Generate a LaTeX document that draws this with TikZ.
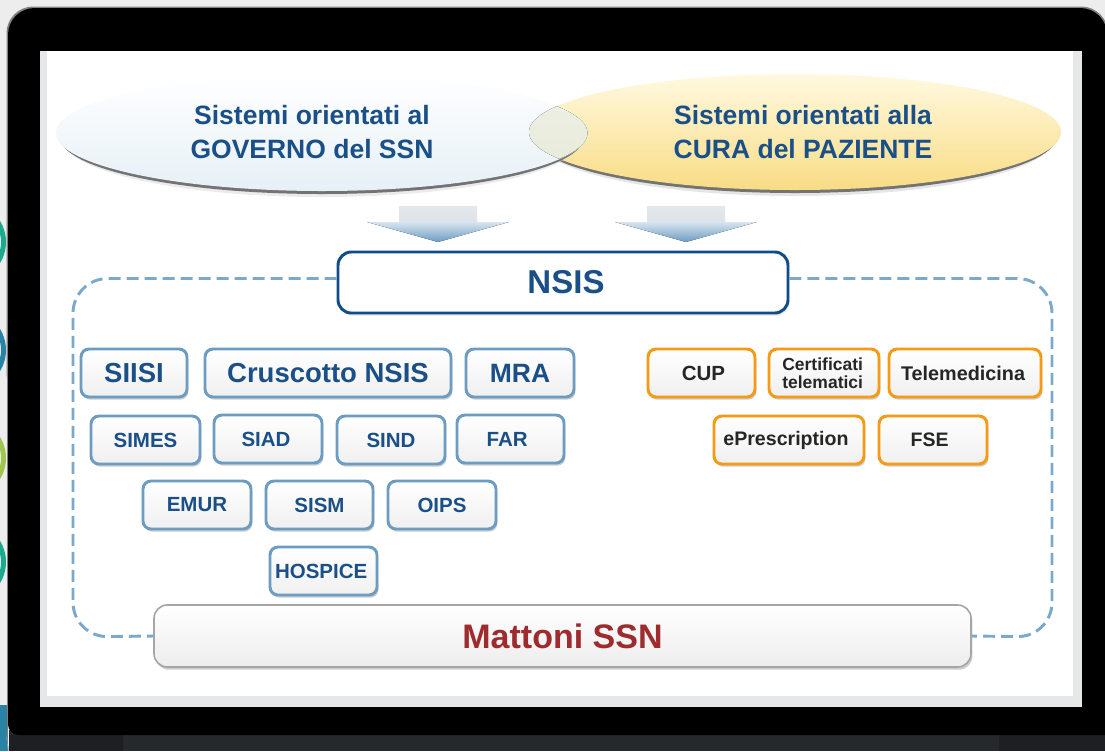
\documentclass[tikz,border=0pt]{standalone}
\usepackage{fontspec}
\setmainfont{Liberation Sans}
\usetikzlibrary{shapes.geometric,shadows,calc}
\definecolor{pagebg}{HTML}{EDEDED}
\definecolor{hinge}{HTML}{26292C}
\definecolor{hingedark}{HTML}{1D1F22}
\definecolor{screenrim}{HTML}{E6E7E9}
\definecolor{navy}{HTML}{0F4C8A}
\definecolor{navytext}{HTML}{1A4F87}
\definecolor{steel}{HTML}{6C9CC2}
\definecolor{dashblue}{HTML}{7AA9CC}
\definecolor{orangeb}{HTML}{F59A12}
\definecolor{brick}{HTML}{9E2B2D}
\definecolor{teal}{HTML}{1FA98C}
\definecolor{sea}{HTML}{2A83A5}
\definecolor{lime}{HTML}{A0C550}
\definecolor{sunny}{HTML}{F8DC85}
\definecolor{sunnytop}{HTML}{FFF9E0}
\definecolor{pale}{HTML}{E6F0F6}
\definecolor{olivetop}{HTML}{F0F1E8}
\definecolor{olivebot}{HTML}{E6E9D6}
\definecolor{stemtop}{HTML}{E4E8EC}
\definecolor{stembot}{HTML}{DDE3EA}
\definecolor{headtop}{HTML}{D8E4EF}
\newcommand{\pxfont}[1]{\fontsize{\dimexpr#1pt*3/4\relax}{\dimexpr#1pt*7/8\relax}\selectfont\bfseries}
\tikzset{
  x=0.75pt,y=-0.75pt,
  softshadow/.style={drop shadow={shadow xshift=1pt,shadow yshift=-2pt,opacity=0.28,fill=black!70}},
  tile/.style 2 args={rounded corners=6pt,line width=2.2pt,minimum width=#1*0.75pt,minimum height=#2*0.75pt,inner sep=0pt,align=center,softshadow,top color=white,bottom color=black!6},
  bluetile/.style 2 args={tile={#1}{#2},draw=steel,text=navytext},
  orangetile/.style 2 args={tile={#1}{#2},draw=orangeb,text=black!85},
  bandtext/.style={text=navytext,align=center,inner sep=0pt},
  sidedot/.style={circle,line width=3.75pt,minimum size=56.25pt,inner sep=0pt,fill=black!3},
  bubble/.style={ellipse,minimum width=532*0.75pt,minimum height=116*0.75pt,inner sep=0pt},
  frameline/.style={dashblue,line width=2.2pt,dash pattern=on 9pt off 4.5pt,rounded corners=26pt},
}
\begin{document}
\begin{tikzpicture}
\useasboundingbox (0,0) rectangle (1105,751);
\fill[pagebg] (0,0) rectangle (1105,751);
% side dots and strip
\node[sidedot,draw=teal] (d1) at (-34,242) {};
\node[sidedot,draw=sea] (d2) at (-34,350) {};
\node[sidedot,draw=lime] (d3) at (-34,458) {};
\node[sidedot,draw=teal] (d4) at (-34,562) {};
\fill[sea] (0,705) rectangle (8,751);
% laptop
\fill[black!50,rounded corners=20pt] (6.5,6.5) rectangle (1108,400);
\fill[black!50] (6.5,300) rectangle (8,742);
\fill[black!25] (6.5,735) .. controls (6.5,745) and (9,749) .. (14,751) -- (8,751) -- cycle;
\fill[hinge] (9,730) rectangle (1105,751);
\fill[hingedark] (9,735) rectangle (123,751);
\fill[hingedark] (999,735) rectangle (1105,751);
\fill[black,rounded corners=20pt] (8,8) rectangle (1107,400);
\fill[black,rounded corners=8pt] (8,300) rectangle (1130,735);
\fill[screenrim] (40,51) rectangle (1082,707);
\fill[white] (47,51) rectangle (1073,696);
% ellipses
\fill[black!20,opacity=.5] (795,139) ellipse [x radius=258,y radius=57];
\fill[black!55] (795,136) ellipse [x radius=262,y radius=57];
\node[bubble,top color=sunnytop,bottom color=sunny] (right) at (795,132) {};
\fill[black!15,opacity=.5] (322,140) ellipse [x radius=258,y radius=57];
\fill[black!55] (322,137) ellipse [x radius=262,y radius=57];
\node[bubble,top color=white,bottom color=pale] (left) at (322,133) {};
\begin{scope}
\clip (322,133) ellipse [x radius=265.5,y radius=57.5];
\fill[top color=olivetop,bottom color=olivebot] (795,132) ellipse [x radius=266,y radius=58];
\end{scope}
\node[bandtext,font=\pxfont{26.5}] (gov) at (312,132) {Sistemi orientati al\\[2pt]GOVERNO del SSN};
\node[bandtext,font=\pxfont{26.5}] (cura) at (803,132) {Sistemi orientati alla\\[2pt]CURA del PAZIENTE};
% arrows
\foreach \cx in {438,686}{
  \fill[top color=stemtop,bottom color=stembot] (\cx-39,206) rectangle (\cx+39,222);
  \fill[top color=headtop,bottom color=steel] (\cx-71,222) -- (\cx+71,222) -- (\cx,242) -- cycle;
}
% frame
\node[rounded corners=10pt,line width=2.2pt,draw=navy,fill=white,minimum width=450*0.75pt,minimum height=61*0.75pt,inner sep=0pt,text=navytext,font=\pxfont{33},drop shadow={shadow xshift=1pt,shadow yshift=-2pt,opacity=.2}] (nsis) at (563,282.5) {\hspace*{4.5pt}\raisebox{-1.5pt}{NSIS}};
\node[rounded corners=10pt,line width=1.2pt,draw=black!35,top color=white,bottom color=black!7,minimum width=817*0.75pt,minimum height=62*0.75pt,inner sep=0pt,text=brick,font=\pxfont{34},softshadow] (matt) at (562.5,636) {\raisebox{-0.75pt}{Mattoni SSN}};
\draw[frameline] ($(nsis.west)+(0,-4)$) -- (73,278.5) -- (73,637) -- (matt.west);
\draw[frameline] ($(nsis.east)+(0,-4)$) -- (1052,278.5) -- (1052,637) -- (matt.east);
% blue tiles
\node[bluetile={106}{48},font=\pxfont{27.5}] (siisi) at (134,373) {\raisebox{-0.75pt}{SIISI}};
\node[bluetile={246}{48},font=\pxfont{27.5}] (crus) at (328,373) {\raisebox{-0.75pt}{Cruscotto NSIS}};
\node[bluetile={108}{48},font=\pxfont{26.5}] (mra) at (520,373) {MRA};
\node[bluetile={109}{48},font=\pxfont{20.5}] (simes) at (145.5,440) {SIMES};
\node[bluetile={108}{48},font=\pxfont{20.5}] (siad) at (268,439) {\hspace*{-3pt}SIAD};
\node[bluetile={108}{48},font=\pxfont{20.5}] (sind) at (391,440) {SIND};
\node[bluetile={107}{48},font=\pxfont{20.5}] (far) at (510.5,439) {\hspace*{-5pt}FAR};
\node[bluetile={108}{48},font=\pxfont{20.5}] (emur) at (197,505) {EMUR};
\node[bluetile={107}{48},font=\pxfont{20.5}] (sism) at (319.5,505) {SISM};
\node[bluetile={108}{48},font=\pxfont{20.5}] (oips) at (442,505) {OIPS};
\node[bluetile={107}{48},font=\pxfont{20.5}] (hosp) at (323.5,571) {\hspace*{-3.5pt}HOSPICE};
% orange tiles
\node[orangetile={107}{48},font=\pxfont{20.5}] (cup) at (701.5,373) {\hspace*{3pt}CUP};
\node[orangetile={110}{48},font=\pxfont{17.5}] (cert) at (824,373) {\hspace*{-2pt}Certificati\\[-1.5pt]\hspace*{-2pt}telematici};
\node[orangetile={152}{48},font=\pxfont{19.8}] (tele) at (965,373) {\hspace*{-3pt}Telemedicina};
\node[orangetile={150}{48},font=\pxfont{19.6}] (epre) at (789,440) {\hspace*{-4.5pt}ePrescription};
\node[orangetile={108}{48},font=\pxfont{19.5}] (fse) at (933,440) {\hspace*{-5pt}FSE};
\end{tikzpicture}
\end{document}
